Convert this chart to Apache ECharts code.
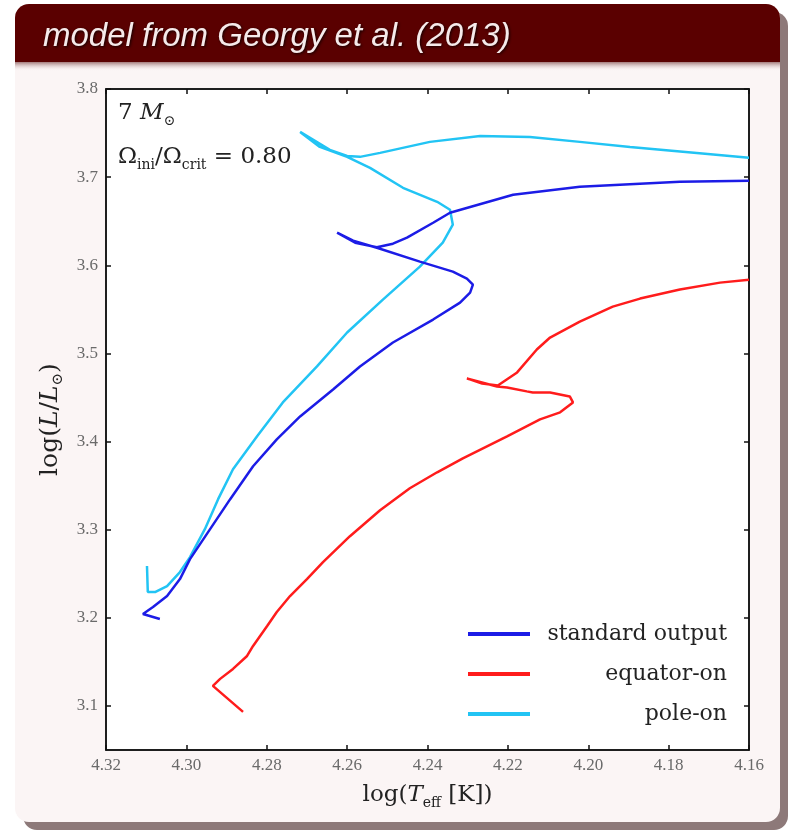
<!DOCTYPE html>
<html>
<head>
<meta charset="utf-8">
<script src="https://cdn.jsdelivr.net/npm/echarts@6/dist/echarts.min.js"></script>
<style>html,body{margin:0;padding:0;background:#fff;}#c{width:789px;height:831px;}</style>
</head>
<body>
<div id="c"></div>
<script>
// ---- data ----
const xTicks = [4.16, 4.18, 4.20, 4.22, 4.24, 4.26, 4.28, 4.30, 4.32];
const yTicks = [3.1, 3.2, 3.3, 3.4, 3.5, 3.6, 3.7, 3.8];
const seriesNames = ['standard output', 'equator-on', 'pole-on'];

const stdLogT = [4.3066, 4.3108, 4.3083, 4.3048, 4.3016, 4.2991, 4.2941, 4.2891, 4.2834, 4.2775, 4.2717, 4.2635, 4.2568, 4.2486, 4.2386, 4.2319, 4.2294, 4.2287, 4.2302, 4.2337, 4.2419, 4.2526, 4.2585, 4.2625, 4.2580, 4.2526, 4.2486, 4.2451, 4.2386, 4.2344, 4.2187, 4.2021, 4.1772, 4.1600];
const stdLogL = [3.1986, 3.2043, 3.2122, 3.2247, 3.2439, 3.2666, 3.3006, 3.3346, 3.3719, 3.4025, 3.4285, 3.4591, 3.4852, 3.5124, 3.5384, 3.5576, 3.5690, 3.5780, 3.5848, 3.5928, 3.6041, 3.6199, 3.6279, 3.6369, 3.6256, 3.6205, 3.6245, 3.6313, 3.6482, 3.6596, 3.6800, 3.6890, 3.6947, 3.6958];

const eqLogT = [4.2859, 4.2934, 4.2916, 4.2884, 4.2849, 4.2834, 4.2799, 4.2775, 4.2742, 4.2700, 4.2660, 4.2593, 4.2518, 4.2444, 4.2376, 4.2312, 4.2202, 4.2120, 4.2070, 4.2038, 4.2046, 4.2095, 4.2138, 4.2153, 4.2202, 4.2227, 4.2302, 4.2264, 4.2225, 4.2177, 4.2128, 4.2095, 4.2021, 4.1939, 4.1871, 4.1772, 4.1672, 4.1600];
const eqLogL = [3.0933, 3.1228, 3.1307, 3.1420, 3.1567, 3.1681, 3.1907, 3.2066, 3.2247, 3.2439, 3.2632, 3.2926, 3.3221, 3.3470, 3.3651, 3.3810, 3.4059, 3.4251, 3.4331, 3.4444, 3.4512, 3.4557, 3.4557, 3.4569, 3.4614, 3.4625, 3.4716, 3.4659, 3.4636, 3.4784, 3.5044, 3.5180, 3.5361, 3.5531, 3.5622, 3.5724, 3.5803, 3.5837];

const poleLogT = [4.3098, 4.3096, 4.3078, 4.3048, 4.3016, 4.2991, 4.2954, 4.2921, 4.2884, 4.2824, 4.2760, 4.2675, 4.2600, 4.2511, 4.2419, 4.2362, 4.2337, 4.2344, 4.2376, 4.2461, 4.2543, 4.2600, 4.2668, 4.2717, 4.2643, 4.2600, 4.2568, 4.2518, 4.2394, 4.2269, 4.2145, 4.2021, 4.1896, 4.1730, 4.1600];
const poleLogL = [3.2587, 3.2292, 3.2292, 3.2360, 3.2519, 3.2689, 3.3006, 3.3346, 3.3685, 3.4059, 3.4444, 3.4852, 3.5237, 3.5610, 3.5984, 3.6256, 3.6460, 3.6630, 3.6720, 3.6879, 3.7105, 3.7230, 3.7343, 3.7513, 3.7309, 3.7241, 3.7230, 3.7275, 3.7400, 3.7468, 3.7456, 3.7400, 3.7343, 3.7275, 3.7219];

// ---- build ----
const zip = (a, b) => a.map((v, i) => [v, b[i]]);
const colors = ['#1c1ce6', '#ff1c1c', '#22c4f4'];
const serif = '"DejaVu Serif", "Liberation Serif", serif';
const tickFont = { fontFamily: '"Liberation Serif", serif', fontSize: 17, color: '#6a6a6a' };

const chart = echarts.init(document.getElementById('c'), null, { renderer: 'canvas' });

function richSet(size, sub) {
  return {
    n: { fontFamily: serif, fontSize: size, fontWeight: 'normal', color: '#222', lineHeight: size + 6 },
    i: { fontFamily: serif, fontSize: size, fontStyle: 'italic', fontWeight: 'normal', color: '#222', lineHeight: size + 6 },
    s: { fontFamily: serif, fontSize: sub, fontWeight: 'normal', color: '#222', verticalAlign: 'bottom', lineHeight: size + 6 }
  };
}
const annotRich = richSet(23, 14);
const xNameRich = richSet(23, 14);
const yNameRich = richSet(25, 15);

chart.setOption({
  animation: false,
  backgroundColor: '#ffffff',
  graphic: [
    { type: 'rect', z: -20, shape: { x: 23, y: 12, width: 765, height: 818, r: 14 }, style: { fill: '#8d7979' } },
    { type: 'rect', z: -19, shape: { x: 15, y: 4, width: 765, height: 818, r: 14 }, style: { fill: '#fbf5f5' } },
    { type: 'rect', z: -18, shape: { x: 15, y: 4, width: 765, height: 58, r: [14, 14, 0, 0] }, style: { fill: '#5a0000' } },
    { type: 'rect', z: -18, shape: { x: 15, y: 62, width: 765, height: 9 },
      style: { fill: new echarts.graphic.LinearGradient(0, 0, 0, 1, [{ offset: 0, color: 'rgba(90,20,20,0.55)' }, { offset: 1, color: 'rgba(251,245,245,0)' }]) } }
  ],
  title: [
    {
      text: 'model from Georgy et al. (2013)',
      left: 38, top: 15,
      textStyle: { fontFamily: '"Liberation Sans", Arial, sans-serif', fontStyle: 'italic', fontWeight: 'normal', fontSize: 33, color: '#f6eaea',
        textShadowColor: 'rgba(0,0,0,0.8)', textShadowBlur: 3, textShadowOffsetX: 1, textShadowOffsetY: 1 }
    },
    {
      text: '{n|7 }{i|M}{s|⊙}',
      left: 113, top: 94,
      textStyle: { fontWeight: 'normal', rich: annotRich }
    },
    {
      text: '{n|Ω}{s|ini}{n|/Ω}{s|crit}{n| = 0.80}',
      left: 113, top: 138,
      textStyle: { fontWeight: 'normal', rich: annotRich }
    }
  ],
  legend: {
    orient: 'vertical',
    left: 463, top: 618,
    itemWidth: 62, itemHeight: 4, itemGap: 18,
    icon: 'rect',
    data: seriesNames,
    formatter: name => '{a|' + name + '}',
    textStyle: {
      rich: { a: { fontFamily: serif, fontSize: 22, color: '#222', width: 192, align: 'right', lineHeight: 24 } }
    }
  },
  grid: { left: 106, right: 40, top: 89, bottom: 81, show: true, backgroundColor: '#ffffff', borderColor: '#111', borderWidth: 1.5 },
  xAxis: [
    {
      type: 'value', min: 4.16, max: 4.32, inverse: true,
      name: '{n|log(}{i|T}{s|eff}{n| [K])}', nameLocation: 'middle', nameGap: 31,
      nameTextStyle: { rich: xNameRich },
      axisLine: { show: true, lineStyle: { color: '#111', width: 1.5 } },
      axisTick: { show: true, inside: true, length: 5, customValues: xTicks, lineStyle: { color: '#111', width: 1.5 } },
      axisLabel: { show: true, customValues: xTicks, formatter: v => v.toFixed(2), margin: 7, ...tickFont },
      splitLine: { show: false }
    },
    {
      type: 'value', min: 4.16, max: 4.32, inverse: true, position: 'top',
      axisLine: { show: true, lineStyle: { color: '#111', width: 1.5 } },
      axisTick: { show: true, inside: true, length: 5, customValues: xTicks, lineStyle: { color: '#111', width: 1.5 } },
      axisLabel: { show: false },
      splitLine: { show: false }
    }
  ],
  yAxis: [
    {
      type: 'value', min: 3.05, max: 3.8,
      name: '{n|log(}{i|L}{n|/}{i|L}{s|⊙}{n|)}', nameLocation: 'middle', nameGap: 29, nameRotate: 90,
      nameTextStyle: { rich: yNameRich },
      axisLine: { show: true, lineStyle: { color: '#111', width: 1.5 } },
      axisTick: { show: true, inside: true, length: 5, customValues: yTicks, lineStyle: { color: '#111', width: 1.5 } },
      axisLabel: { show: true, customValues: yTicks, formatter: v => v.toFixed(1), margin: 8, ...tickFont },
      splitLine: { show: false }
    },
    {
      type: 'value', min: 3.05, max: 3.8, position: 'right',
      axisLine: { show: true, lineStyle: { color: '#111', width: 1.5 } },
      axisTick: { show: true, inside: true, length: 5, customValues: yTicks, lineStyle: { color: '#111', width: 1.5 } },
      axisLabel: { show: false },
      splitLine: { show: false }
    }
  ],
  series: [
    { name: seriesNames[0], type: 'line', data: zip(stdLogT, stdLogL), showSymbol: false, symbol: 'none', color: colors[0], lineStyle: { width: 2.5 }, z: 3 },
    { name: seriesNames[1], type: 'line', data: zip(eqLogT, eqLogL), showSymbol: false, symbol: 'none', color: colors[1], lineStyle: { width: 2.5 }, z: 3 },
    { name: seriesNames[2], type: 'line', data: zip(poleLogT, poleLogL), showSymbol: false, symbol: 'none', color: colors[2], lineStyle: { width: 2.5 }, z: 2 }
  ]
});
</script>
</body>
</html>
